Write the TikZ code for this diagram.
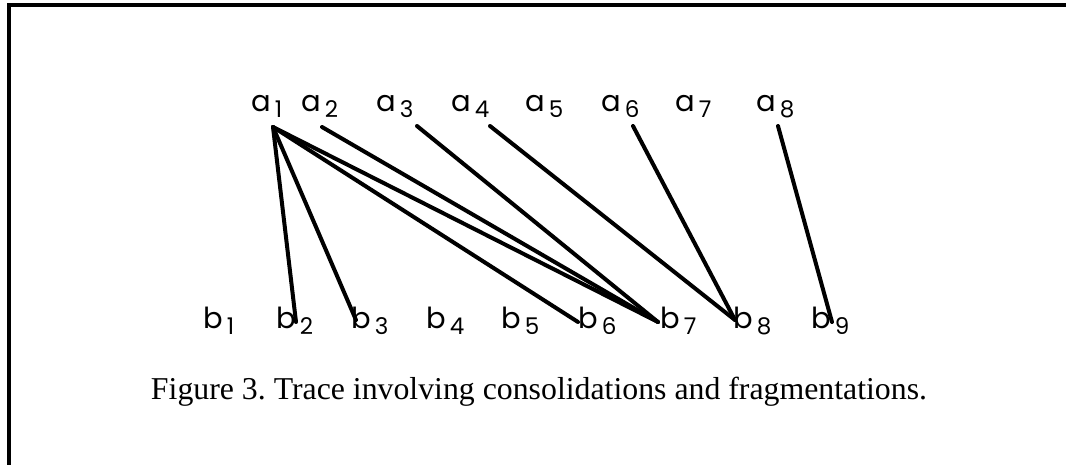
\documentclass[tikz,border=0pt]{standalone}
\usepackage{fontspec}
\setmainfont{Liberation Serif}
\newfontfamily\plotfont{Poppins}
\newcommand\lblfnt{\plotfont\fontsize{29}{29}\selectfont}
\newcommand\subfnt{\plotfont\fontsize{23}{23}\selectfont}
\newcommand\lbl[2]{#1\hspace{4pt}\raisebox{-6pt}{\subfnt #2}}
\frenchspacing
\tikzset{
  lab/.style={anchor=base west, inner sep=0pt, font=\lblfnt},
  link/.style={line width=4pt, line cap=round},
  frame/.style={line width=3.5pt}
}
\begin{document}
\begin{tikzpicture}[x=1pt,y=-1pt]
\useasboundingbox (0,0) rectangle (1066,464);
% frame (top and left edges)
\coordinate (f1) at (1068,5);
\coordinate (f2) at (9,5);
\coordinate (f3) at (9,466);
\draw[frame] (f1) -- (f2) -- (f3);
% a labels
\node[lab] (a1) at (251,111) {\lbl{a}{1}};
\node[lab] (a2) at (301,111) {\lbl{a}{2}};
\node[lab] (a3) at (376,111) {\lbl{a}{3}};
\node[lab] (a4) at (451,111) {\lbl{a}{4}};
\node[lab] (a5) at (525,111) {\lbl{a}{5}};
\node[lab] (a6) at (601,111) {\lbl{a}{6}};
\node[lab] (a7) at (675,111) {\lbl{a}{7}};
\node[lab] (a8) at (756,111) {\lbl{a}{8}};
% b labels
\node[lab] (b1) at (203,328) {\lbl{b}{1}};
\node[lab] (b2) at (276,328) {\lbl{b}{2}};
\node[lab] (b3) at (351,328) {\lbl{b}{3}};
\node[lab] (b4) at (426,328) {\lbl{b}{4}};
\node[lab] (b5) at (501,328) {\lbl{b}{5}};
\node[lab] (b6) at (578,328) {\lbl{b}{6}};
\node[lab] (b7) at (660,328) {\lbl{b}{7}};
\node[lab] (b8) at (733,328) {\lbl{b}{8}};
\node[lab] (b9) at (811,328) {\lbl{b}{9}};
% connector end points
\coordinate (ta1) at (273,127);
\coordinate (ta2) at (322,127);
\coordinate (ta3) at (417,126);
\coordinate (ta4) at (490,126);
\coordinate (ta6) at (633,126);
\coordinate (ta8) at (778,126);
\coordinate (tb2) at (296,322);
\coordinate (tb3) at (356,320);
\coordinate (tb6) at (578,322);
\coordinate (tb7) at (658,322);
\coordinate (tb8) at (735,320);
\coordinate (tb9) at (832,322);
\draw[link] (ta1) -- (tb2);
\draw[link] (ta1) -- (tb3);
\draw[link] (ta1) -- (tb6);
\draw[link] (ta1) -- (tb7);
\draw[link] (ta2) -- (tb7);
\draw[link] (ta3) -- (tb7);
\draw[link] (ta4) -- (tb8);
\draw[link] (ta6) -- (tb8);
\draw[link] (ta8) -- (tb9);
% caption
\node[anchor=base, inner sep=0pt, font=\fontsize{31.8}{32}\selectfont] (caption) at (539,399) {Figure 3. Trace involving consolidations and fragmentations.};
\end{tikzpicture}
\end{document}
